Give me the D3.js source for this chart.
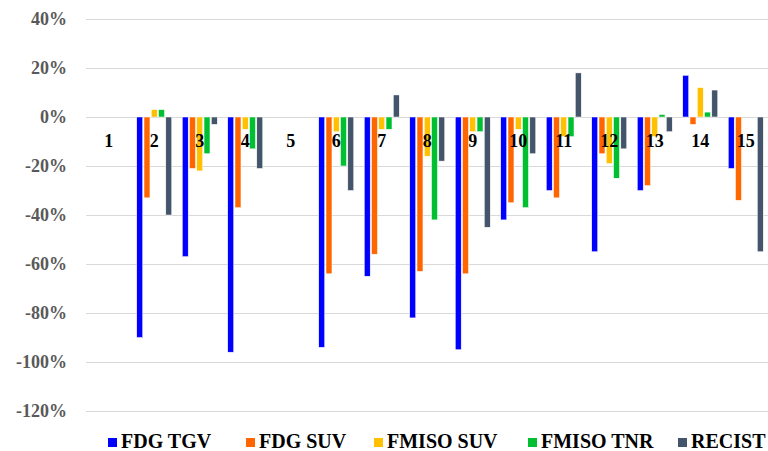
<!DOCTYPE html>
<html><head><meta charset="utf-8">
<script src="https://cdn.jsdelivr.net/npm/d3@7"></script>
<style>body{margin:0;background:#fff}svg{display:block}</style>
</head><body>
<script>
const categories = ["1","2","3","4","5","6","7","8","9","10","11","12","13","14","15"];
const seriesNames = ["FDG TGV","FDG SUV","FMISO SUV","FMISO TNR","RECIST"];
const colors = ["#0000ff","#ff6600","#ffc000","#00c032","#44546a"];
const fdgTGV   = [null,-90,-57,-96,null,-94,-65,-82,-95,-42,-30,-55,-30,17,-21];
const fdgSUV   = [null,-33,-21,-37,null,-64,-56,-63,-64,-35,-33,-15,-28,-3,-34];
const fmisoSUV = [null,3,-22,-5,null,-6,-5,-16,-6,-5,-8,-19,-8,12,null];
const fmisoTNR = [null,3,-15,-13,null,-20,-5,-42,-6,-37,-8,-25,1,2,null];
const recist   = [null,-40,-3,-21,null,-30,9,-18,-45,-15,18,-13,-6,11,-55];
const yTicks = [40,20,0,-20,-40,-60,-80,-100,-120];
const seriesValues = [fdgTGV,fdgSUV,fmisoSUV,fmisoTNR,recist];

const FONT = "'Liberation Serif','Times New Roman',Tinos,'DejaVu Serif','Noto Serif',serif";
const W=768,H=451;
const svg=d3.select("body").append("svg").attr("width",W).attr("height",H);
const x=d3.scaleBand().domain(categories).range([86,768.5]).padding(0);
const y=d3.scaleLinear().domain([-120,40]).range([411,19]);
const groupW=35;
const xs=d3.scaleBand().domain(seriesNames).range([-groupW/2,groupW/2]).paddingInner(0.18);

svg.append("g").selectAll("line").data(yTicks).join("line")
  .attr("x1",86).attr("x2",768).attr("y1",d=>Math.round(y(d))+0.5).attr("y2",d=>Math.round(y(d))+0.5)
  .attr("stroke","#d9d9d9").attr("stroke-width",1.2);

const yAxis=d3.axisLeft(y).tickValues(yTicks).tickFormat(d=>d+"%").tickSize(0).tickPadding(0);
const ga=svg.append("g").attr("transform","translate(67,0)").call(yAxis);
ga.select(".domain").remove();
ga.attr("font-family",FONT).attr("font-size",18);
ga.selectAll("text").attr("fill","#595959").attr("font-weight","bold");

seriesNames.forEach((s,si)=>{
  svg.append("g").selectAll("rect").data(categories.map((c,i)=>({c,v:seriesValues[si][i]})).filter(d=>d.v!==null))
   .join("rect")
   .attr("x",d=>x(d.c)+x.bandwidth()/2+xs(s))
   .attr("width",xs.bandwidth())
   .attr("y",d=>y(Math.max(0,d.v)))
   .attr("height",d=>Math.abs(y(d.v)-y(0)))
   .attr("fill",colors[si]).attr("stroke","#fff").attr("stroke-width",0.5);
});

svg.append("g").selectAll("text").data(categories).join("text")
  .attr("x",d=>x(d)+x.bandwidth()/2).attr("y",147)
  .attr("text-anchor","middle").attr("fill","#000")
  .attr("font-family",FONT).attr("font-weight","bold").attr("font-size",18).text(d=>d);

const legX=[108,246,374,528,678];
const lg=svg.append("g").attr("font-family",FONT).attr("font-weight","bold").attr("font-size",20);
seriesNames.forEach((s,i)=>{
  lg.append("rect").attr("x",legX[i]).attr("y",438).attr("width",9).attr("height",9).attr("fill",colors[i]);
  lg.append("text").attr("x",legX[i]+13).attr("y",447.5).attr("fill","#000").text(s);
});
</script>
</body></html>
